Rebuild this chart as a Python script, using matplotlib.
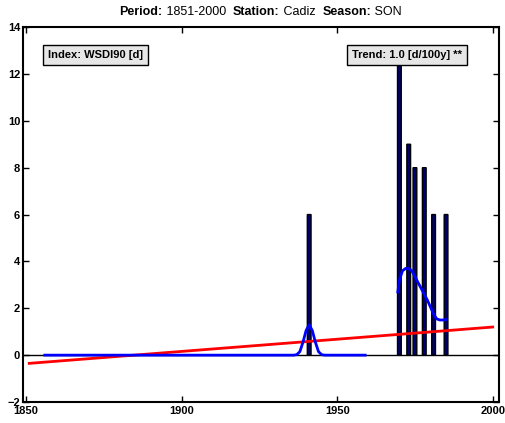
import matplotlib
matplotlib.use("Agg")
import matplotlib.pyplot as plt
import numpy as np

plt.rcParams['font.family'] = ['Liberation Sans', 'DejaVu Sans']

# bar data (years with non-zero index)
bar_years = [1941, 1970, 1973, 1975, 1978, 1981, 1985]
bar_values = [6, 13, 9, 8, 8, 6, 6]

# smoothed curve, first segment
smooth1_years = [1856, 1936, 1937, 1938, 1939, 1940, 1941, 1942, 1943, 1944, 1945, 1946, 1959]
smooth1_values = [0, 0, 0.02, 0.15, 0.55, 1.05, 1.3, 1.05, 0.55, 0.15, 0.02, 0, 0]

# smoothed curve, second segment
smooth2_years = [1969.5, 1970, 1971, 1972, 1973, 1974, 1975, 1976, 1977, 1978, 1979, 1980, 1981, 1982, 1983, 1984, 1985]
smooth2_values = [2.7, 3.2, 3.6, 3.7, 3.7, 3.6, 3.35, 3.1, 2.85, 2.6, 2.35, 2.05, 1.75, 1.55, 1.5, 1.5, 1.52]

# linear trend
trend_years = [1851, 2000]
trend_values = [-0.35, 1.2]

title_parts = [("Period:", 'bold'), (" 1851-2000  ", 'normal'),
               ("Station:", 'bold'), (" Cadiz  ", 'normal'),
               ("Season:", 'bold'), (" SON", 'normal')]

fig = plt.figure(figsize=(5.06, 4.23), dpi=100)
ax = fig.add_axes([0.0455, 0.0496, 0.9405, 0.8864])

ax.axhline(0, color='black', lw=1, zorder=1)
bars = ax.bar(bar_years, bar_values, width=1.2, color='#00006e', edgecolor='black', lw=1, zorder=2)
for b in bars:
    b.set_snap(False)
ax.plot(trend_years, trend_values, color='#ff0000', lw=2, zorder=3)
ax.plot(smooth1_years, smooth1_values, color='#0000ff', lw=2, zorder=4)
ax.plot(smooth2_years, smooth2_values, color='#0000ff', lw=2, zorder=4)

ax.set_xlim(1849, 2002)
ax.set_ylim(-2, 14)
ax.set_xticks([1850, 1900, 1950, 2000])
ax.set_yticks(range(-2, 15, 2))
ax.set_yticklabels(['\u22122'] + [str(v) for v in range(0, 15, 2)])
ax.tick_params(direction='in', top=True, right=True, length=4, width=1, labelsize=8, pad=2)
ax.tick_params(axis='x', pad=3)
for lab in ax.get_xticklabels() + ax.get_yticklabels():
    lab.set_fontweight('bold')
for sp in ax.spines.values():
    sp.set_linewidth(1.5)

# title built from pieces, bold labels and plain values
renderer = fig.canvas.get_renderer()
widths = []
for s, w in title_parts:
    t = fig.text(0, 0, s, fontsize=9, fontweight=w)
    widths.append(t.get_window_extent(renderer).width)
    t.remove()
x = 0.515 * fig.bbox.width - sum(widths) / 2
for (s, w), wd in zip(title_parts, widths):
    fig.text(x / fig.bbox.width, 0.972, s, fontsize=9, fontweight=w, va='center', ha='left')
    x += wd

box = dict(boxstyle='square,pad=0.45', facecolor='#e6e6e6', edgecolor='black', lw=1)
ax.text(0.052, 0.925, "Index: WSDI90 [d]", transform=ax.transAxes, fontsize=8,
        fontweight='bold', va='center', ha='left', bbox=box, zorder=10)
ax.text(0.922, 0.925, "Trend: 1.0 [d/100y] **", transform=ax.transAxes, fontsize=8,
        fontweight='bold', va='center', ha='right', bbox=box, zorder=10)

fig.savefig('out.png', dpi=100)
